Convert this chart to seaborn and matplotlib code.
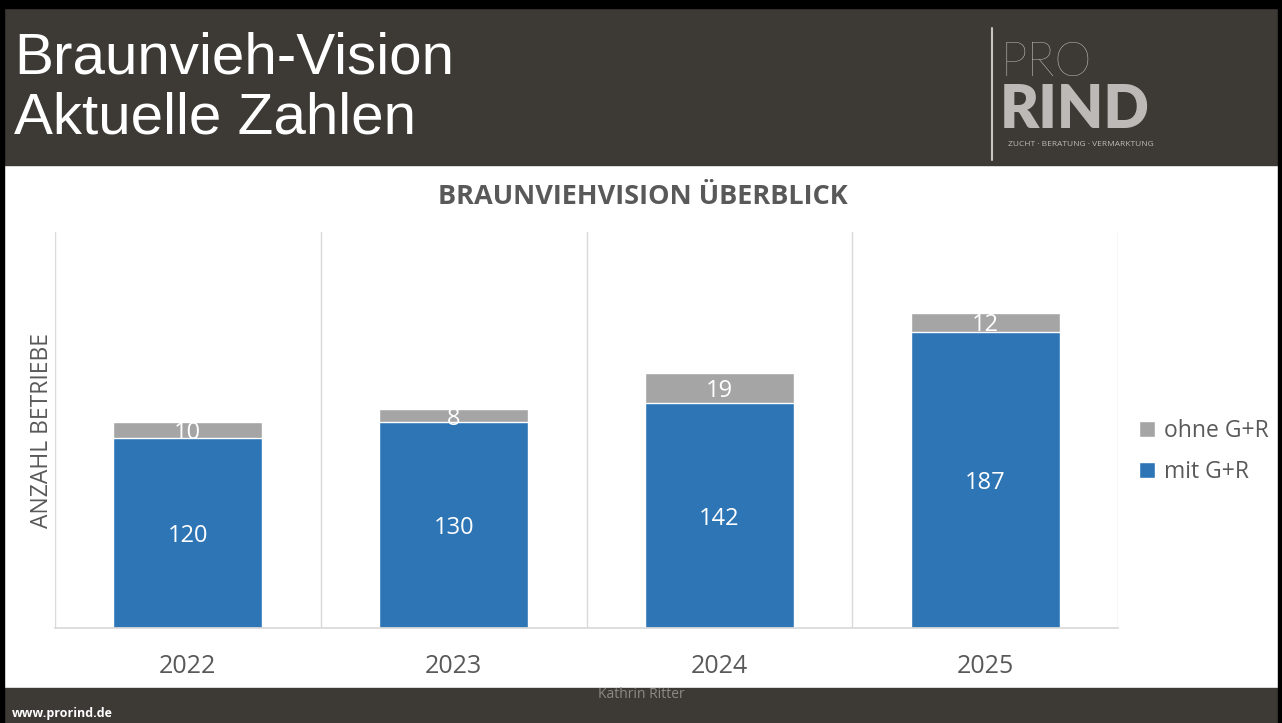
import numpy as np
import pandas as pd
import matplotlib
matplotlib.use("Agg")
import matplotlib.pyplot as plt
from matplotlib.patches import Rectangle
import seaborn as sns

# Data
years = ["2022", "2023", "2024", "2025"]
mit_gr = [120, 130, 142, 187]
ohne_gr = [10, 8, 19, 12]

df = pd.DataFrame({"Jahr": years, "mit": mit_gr, "ohne": ohne_gr})
df["gesamt"] = df["mit"] + df["ohne"]

blue = "#2E75B6"
grey = "#A5A5A5"
dark = "#3D3935"
txt = "#595959"

sns.set_theme(style="white")
plt.rcParams["font.family"] = ["Open Sans", "DejaVu Sans"]

W, H = 1282, 723
fig = plt.figure(figsize=(W / 100, H / 100), dpi=100)
fig.patch.set_facecolor("white")

def px_rect(x0, y0, x1, y1, color):
    # rectangle in pixel coords (y from top)
    fig.patches.append(Rectangle((x0 / W, 1 - y1 / H), (x1 - x0) / W, (y1 - y0) / H,
                                 transform=fig.transFigure, color=color, zorder=0))

# slide header / footer / frame
px_rect(0, 0, W, 165, dark)
px_rect(0, 688, W, H, dark)
px_rect(0, 0, W, 8, "black")
px_rect(0, 0, 4, H, "black")
px_rect(W - 4, 0, W, H, "black")

fig.text(14 / W, 1 - 58 / H, "Braunvieh-Vision", color="white", fontsize=42,
         family="Liberation Sans", va="center", ha="left")
fig.text(14 / W, 1 - 118 / H, "Aktuelle Zahlen", color="white", fontsize=42,
         family="Liberation Sans", va="center", ha="left")

# logo text
fig.lines.append(plt.Line2D([992 / W, 992 / W], [1 - 28 / H, 1 - 160 / H],
                            transform=fig.transFigure, color="#C8C4C0", lw=1.5))
fig.text(1001 / W, 1 - 63 / H, "PRO", color="#C8C4C0", fontsize=34,
         family="Lato", fontweight="light", va="center", ha="left")
fig.text(1000 / W, 1 - 110 / H, "RIND", color="#BDB9B6", fontsize=43,
         family="Lato", fontweight="heavy", va="center", ha="left")
fig.text(1008 / W, 1 - 144 / H, "ZUCHT · BERATUNG · VERMARKTUNG", color="#BDB9B6",
         fontsize=6, va="center", ha="left")

# footer texts
fig.text(12 / W, 1 - 713 / H, "www.prorind.de", color="white", fontsize=9,
         fontweight="bold", va="center", ha="left")
fig.text(641 / W, 1 - 694 / H, "Kathrin Ritter", color="#8C8884", fontsize=10,
         va="center", ha="center")

# chart
ax = fig.add_axes([55 / W, 1 - 628 / H, (1118 - 55) / W, (628 - 232) / H])
sns.barplot(data=df, x="Jahr", y="gesamt", color=grey, width=0.56,
            saturation=1, ax=ax, label="ohne G+R")
sns.barplot(data=df, x="Jahr", y="mit", color=blue, width=0.56,
            saturation=1, ax=ax, label="mit G+R")

ax.set_ylim(0, 250)
ax.set_xlim(-0.5, len(years) - 0.5)
ax.set_yticks([])
ax.set_xticks(np.arange(-0.5, len(years), 1.0), minor=True)
ax.grid(which="minor", axis="x", color="#D9D9D9", lw=1)
ax.tick_params(axis="x", which="both", length=0, labelsize=18, labelcolor=txt, pad=19)
for s in ["top", "right", "left"]:
    ax.spines[s].set_visible(False)
ax.spines["bottom"].set_color("#D9D9D9")
ax.set_xlabel("")
ax.set_ylabel("ANZAHL BETRIEBE", fontsize=16.5, color=txt, labelpad=1)

# value labels
for i, (m, o) in enumerate(zip(mit_gr, ohne_gr)):
    ax.text(i, m / 2 - 2, str(m), color="white", fontsize=17, ha="center", va="center")
    ax.text(i, m + o / 2 - 2, str(o), color="white", fontsize=17, ha="center", va="center")

fig.text(643 / W, 1 - 197 / H, "BRAUNVIEHVISION ÜBERBLICK", color=txt, fontsize=19.5,
         fontweight="bold", ha="center", va="center")

# legend
h, l = ax.get_legend_handles_labels()
leg = ax.legend(h, l, loc="center left", bbox_to_anchor=(1.0, 0.445), frameon=False,
                fontsize=16.5, labelcolor=txt, handlelength=0.7, handleheight=0.7,
                handletextpad=0.4, labelspacing=0.75)

fig.savefig("out.png", dpi=100)
